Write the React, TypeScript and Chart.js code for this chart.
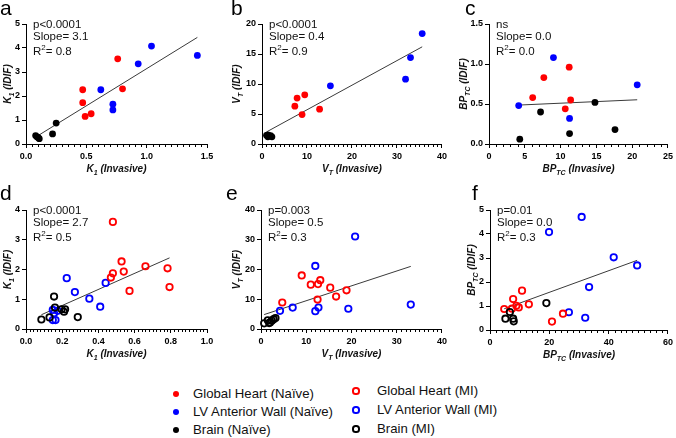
import React, { useEffect, useRef } from 'react';
import { Chart, registerables } from 'chart.js';

Chart.register(...registerables);

type Pt = [number, number];
type Part = { t: string; sub?: boolean; sup?: boolean };

const RED = '#ff0000';
const BLUE = '#0000ff';
const BLACK = '#000000';
const FONT = '"Liberation Sans", Arial, Helvetica, sans-serif';

// ---- Naïve animals: K1 ----
const k1HeartNaive: Pt[] = [[0.47, 2.26], [0.47, 1.72], [0.49, 1.15], [0.54, 1.26], [0.76, 3.55], [0.8, 2.3]];
const k1WallNaive: Pt[] = [[0.62, 2.26], [0.72, 1.66], [0.72, 1.42], [0.93, 3.34], [1.04, 4.08], [1.42, 3.69]];
const k1BrainNaive: Pt[] = [[0.08, 0.35], [0.09, 0.3], [0.1, 0.27], [0.11, 0.22], [0.22, 0.42], [0.25, 0.87]];

// ---- Naïve animals: VT ----
const vtHeartNaive: Pt[] = [[7.3, 6.3], [7.8, 7.65], [9.5, 8.2], [8.9, 4.9], [12.8, 5.8]];
const vtWallNaive: Pt[] = [[15.2, 9.7], [31.9, 10.8], [33.0, 14.4], [35.6, 18.4]];
const vtBrainNaive: Pt[] = [[1.0, 1.45], [1.3, 1.5], [1.6, 1.35], [1.9, 1.4], [2.2, 1.2], [1.3, 1.2]];

// ---- Naïve animals: BPTC ----
const bpHeartNaive: Pt[] = [[6.1, 0.58], [7.66, 0.83], [11.2, 0.96], [11.4, 0.55], [10.65, 0.44]];
const bpWallNaive: Pt[] = [[4.15, 0.48], [9.0, 1.08], [11.25, 0.32], [20.7, 0.74]];
const bpBrainNaive: Pt[] = [[4.3, 0.06], [7.2, 0.4], [11.25, 0.13], [14.8, 0.52], [17.6, 0.18]];

// ---- MI animals: K1 ----
const k1HeartMI: Pt[] = [[0.48, 3.6], [0.528, 2.27], [0.54, 1.93], [0.48, 1.87], [0.469, 1.73], [0.572, 1.28], [0.66, 2.11], [0.782, 2.04], [0.793, 1.41]];
const k1WallMI: Pt[] = [[0.225, 1.71], [0.27, 1.24], [0.35, 1.02], [0.41, 0.75], [0.44, 1.55], [0.148, 0.64], [0.155, 0.53], [0.148, 0.3], [0.163, 0.3], [0.175, 0.61]];
const k1BrainMI: Pt[] = [[0.085, 0.32], [0.13, 0.39], [0.155, 1.09], [0.16, 0.72], [0.197, 0.66], [0.21, 0.58], [0.216, 0.66], [0.286, 0.4]];

// ---- MI animals: VT ----
const vtHeartMI: Pt[] = [[4.7, 8.9], [9.0, 18.0], [11.0, 14.9], [12.6, 15.1], [13.1, 16.4], [12.5, 9.9], [15.3, 13.9], [16.6, 10.9], [18.9, 13.0]];
const vtWallMI: Pt[] = [[4.2, 6.1], [7.0, 7.2], [12.0, 6.0], [12.7, 7.2], [12.0, 21.2], [20.8, 31.1], [19.3, 6.8], [33.1, 8.2]];
const vtBrainMI: Pt[] = [[0.7, 1.9], [1.5, 2.9], [1.8, 2.0], [2.0, 2.2], [2.4, 2.8], [2.8, 3.3], [3.2, 3.7]];

// ---- MI animals: BPTC ----
const bpHeartMI: Pt[] = [[4.8, 0.875], [7.8, 1.29], [7.4, 0.89], [8.9, 1.01], [9.7, 0.94], [10.8, 1.64], [13.1, 1.07], [20.9, 0.35], [24.6, 0.68]];
const bpWallMI: Pt[] = [[19.9, 4.08], [30.9, 4.71], [41.7, 3.03], [49.6, 2.69], [33.4, 1.79], [26.6, 0.74], [32.1, 0.51]];
const bpBrainMI: Pt[] = [[6.7, 0.75], [5.2, 0.47], [7.8, 0.47], [8.0, 0.36], [19.0, 1.12]];

// ---- Linear fits (panels a–f) ----
const fitSlopes = [3.1, 0.41, 0.004, 2.7, 0.5, 0.045];
const fitIntercepts = [0.04, 1.6, 0.47, 0.25, 4.5, 0.67];
const fitP = ['p<0.0001', 'p<0.0001', 'ns', 'p<0.0001', 'p=0.003', 'p=0.01'];
const fitR2 = ['0.8', '0.9', '0.0', '0.5', '0.3', '0.3'];

// ---- Axis titles ----
const K1 = (s: string): Part[] => [{ t: 'K' }, { t: '1', sub: true }, { t: ` (${s})` }];
const VT = (s: string): Part[] => [{ t: 'V' }, { t: 'T', sub: true }, { t: ` (${s})` }];
const BP = (s: string): Part[] => [{ t: 'BP' }, { t: 'TC', sub: true }, { t: ` (${s})` }];

type Group = { data: Pt[]; color: string; open: boolean };
type PanelCfg = {
  letter: string; letterX: number; letterY: number;
  left: number; top: number; w: number; h: number;
  axL: number; axT: number; axR: number; axB: number;
  xMin: number; xMax: number; xStep: number; xMinor: number; xDec: number;
  yMin: number; yMax: number; yStep: number; yDec: number;
  xTitle: Part[]; yTitle: Part[]; yTitleX: number;
  fit: number; groups: Group[];
};

const grp = (heart: Pt[], wall: Pt[], brain: Pt[], open: boolean): Group[] => [
  { data: brain, color: BLACK, open },
  { data: heart, color: RED, open },
  { data: wall, color: BLUE, open },
];

const panels: PanelCfg[] = [
  {
    letter: 'a', letterX: 0, letterY: 15, left: 0, top: 0, w: 222, h: 183,
    axL: 26, axT: 24, axR: 207, axB: 144,
    xMin: 0, xMax: 1.5, xStep: 0.5, xMinor: 0.05, xDec: 1, yMin: 0, yMax: 5, yStep: 1, yDec: 0,
    xTitle: K1('Invasive'), yTitle: K1('IDIF'), yTitleX: 7, fit: 0,
    groups: grp(k1HeartNaive, k1WallNaive, k1BrainNaive, false),
  },
  {
    letter: 'b', letterX: 231, letterY: 15, left: 225, top: 0, w: 225, h: 183,
    axL: 262, axT: 24, axR: 443, axB: 144,
    xMin: 0, xMax: 40, xStep: 10, xMinor: 1, xDec: 0, yMin: 0, yMax: 20, yStep: 5, yDec: 0,
    xTitle: VT('Invasive'), yTitle: VT('IDIF'), yTitleX: 236, fit: 1,
    groups: grp(vtHeartNaive, vtWallNaive, vtBrainNaive, false),
  },
  {
    letter: 'c', letterX: 465, letterY: 15, left: 448, top: 0, w: 228, h: 183,
    axL: 489, axT: 24, axR: 670, axB: 144,
    xMin: 0, xMax: 25, xStep: 5, xMinor: 1, xDec: 0, yMin: 0, yMax: 1.5, yStep: 0.5, yDec: 1,
    xTitle: BP('Invasive'), yTitle: BP('IDIF'), yTitleX: 463, fit: 2,
    groups: grp(bpHeartNaive, bpWallNaive, bpBrainNaive, false),
  },
  {
    letter: 'd', letterX: 0, letterY: 200, left: 0, top: 183, w: 222, h: 185,
    axL: 26, axT: 210, axR: 207, axB: 329,
    xMin: 0, xMax: 1, xStep: 0.2, xMinor: 0.02, xDec: 1, yMin: 0, yMax: 4, yStep: 1, yDec: 0,
    xTitle: K1('Invasive'), yTitle: K1('IDIF'), yTitleX: 7, fit: 3,
    groups: grp(k1HeartMI, k1WallMI, k1BrainMI, true),
  },
  {
    letter: 'e', letterX: 226, letterY: 200, left: 222, top: 183, w: 228, h: 185,
    axL: 261, axT: 210, axR: 442, axB: 329,
    xMin: 0, xMax: 40, xStep: 10, xMinor: 1, xDec: 0, yMin: 0, yMax: 40, yStep: 10, yDec: 0,
    xTitle: VT('Invasive'), yTitle: VT('IDIF'), yTitleX: 236, fit: 4,
    groups: grp(vtHeartMI, vtWallMI, vtBrainMI, true),
  },
  {
    letter: 'f', letterX: 472, letterY: 200, left: 452, top: 183, w: 224, h: 185,
    axL: 490, axT: 210, axR: 670, axB: 330,
    xMin: 0, xMax: 60, xStep: 20, xMinor: 2, xDec: 0, yMin: 0, yMax: 5, yStep: 1, yDec: 0,
    xTitle: BP('Invasive'), yTitle: BP('IDIF'), yTitleX: 471, fit: 5,
    groups: grp(bpHeartMI, bpWallMI, bpBrainMI, true),
  },
];

// Draws a run of text pieces, with sub/superscripts where marked.
function drawParts(
  ctx: CanvasRenderingContext2D, parts: Part[], x: number, y: number,
  size: number, style: string, align: 'left' | 'center',
) {
  const base = `${style} ${size}px ${FONT}`;
  const small = `${style} ${Math.round(size * 0.72)}px ${FONT}`;
  const widths = parts.map((p) => {
    ctx.font = p.sub || p.sup ? small : base;
    return ctx.measureText(p.t).width;
  });
  const total = widths.reduce((s, w) => s + w, 0);
  let cx = align === 'center' ? x - total / 2 : x;
  ctx.textAlign = 'left';
  ctx.textBaseline = 'alphabetic';
  parts.forEach((p, i) => {
    ctx.font = p.sub || p.sup ? small : base;
    const dy = p.sub ? size * 0.3 : p.sup ? -size * 0.42 : 0;
    ctx.fillText(p.t, cx, y + dy);
    cx += widths[i];
  });
}

function buildConfig(cfg: PanelCfg): any {
  const slope = fitSlopes[cfg.fit];
  const icpt = fitIntercepts[cfg.fit];
  const allX = cfg.groups.flatMap((g) => g.data.map((d) => d[0]));
  const x0 = Math.min(...allX);
  const x1 = Math.max(...allX);

  const datasets: any[] = cfg.groups.map((g) => ({
    type: 'scatter',
    data: g.data.map(([x, y]) => ({ x, y })),
    pointRadius: g.open ? 3.2 : 3.4,
    pointBorderWidth: g.open ? 1.8 : 0,
    pointBackgroundColor: g.open ? 'rgba(255,255,255,0)' : g.color,
    pointBorderColor: g.color,
    clip: false,
  }));
  datasets.push({
    type: 'scatter',
    showLine: true,
    data: [x0, x1].map((x) => ({ x, y: slope * x + icpt })),
    borderColor: '#3a3a3a',
    borderWidth: 1,
    pointRadius: 0,
    clip: false,
  });

  const tickFont = { family: FONT, size: 9, weight: 'bold' };
  const gridOpts = { display: true, drawOnChartArea: false, drawTicks: true, tickLength: 4, color: '#000', lineWidth: 1 };
  const borderOpts = { display: true, color: '#000', width: 1 };
  const xH = cfg.h - (cfg.axB - cfg.top);
  const yW = cfg.axL - cfg.left;

  const decor = {
    id: 'panelDecor',
    afterDraw(chart: any) {
      const ctx: CanvasRenderingContext2D = chart.ctx;
      const area = chart.chartArea;
      const xs = chart.scales.x;
      ctx.save();
      // minor ticks on the x axis
      ctx.strokeStyle = '#000';
      ctx.lineWidth = 1;
      const n = Math.round((cfg.xMax - cfg.xMin) / cfg.xMinor);
      const per = Math.round(cfg.xStep / cfg.xMinor);
      for (let i = 0; i <= n; i++) {
        if (i % per === 0) continue;
        const px = Math.round(xs.getPixelForValue(cfg.xMin + i * cfg.xMinor)) + 0.5;
        ctx.beginPath();
        ctx.moveTo(px, Math.round(area.bottom));
        ctx.lineTo(px, Math.round(area.bottom) + 3);
        ctx.stroke();
      }
      ctx.fillStyle = '#111';
      // axis titles
      drawParts(ctx, cfg.xTitle, (area.left + area.right) / 2, cfg.axB - cfg.top + 28, 10, 'italic bold', 'center');
      ctx.save();
      ctx.translate(cfg.yTitleX - cfg.left, (area.top + area.bottom) / 2);
      ctx.rotate(-Math.PI / 2);
      drawParts(ctx, cfg.yTitle, 0, 3.6, 10, 'italic bold', 'center');
      ctx.restore();
      // fit statistics
      const tx = area.left + 7;
      drawParts(ctx, [{ t: fitP[cfg.fit] }], tx, area.top + 4, 11.5, 'normal', 'left');
      drawParts(ctx, [{ t: `Slope= ${slope.toFixed(1)}` }], tx, area.top + 15.5, 11.5, 'normal', 'left');
      drawParts(ctx, [{ t: 'R' }, { t: '2', sup: true }, { t: `= ${fitR2[cfg.fit]}` }], tx, area.top + 31, 11.5, 'normal', 'left');
      // panel letter
      ctx.fillStyle = '#000';
      ctx.font = `21px ${FONT}`;
      ctx.fillText(cfg.letter, cfg.letterX - cfg.left, cfg.letterY - cfg.top);
      ctx.restore();
    },
  };

  return {
    type: 'scatter',
    data: { datasets },
    options: {
      responsive: false,
      animation: false,
      devicePixelRatio: 1,
      layout: { padding: { top: cfg.axT - cfg.top, right: cfg.left + cfg.w - cfg.axR, bottom: 0, left: 0 } },
      plugins: { legend: { display: false }, tooltip: { enabled: false } },
      scales: {
        x: {
          type: 'linear', min: cfg.xMin, max: cfg.xMax,
          ticks: {
            stepSize: cfg.xStep, autoSkip: false, maxRotation: 0, padding: 3,
            color: '#000', font: tickFont,
            callback: (v: number) => Number(v).toFixed(cfg.xDec),
          },
          grid: gridOpts, border: borderOpts,
          afterFit: (s: any) => { s.height = xH; },
        },
        y: {
          type: 'linear', min: cfg.yMin, max: cfg.yMax,
          ticks: {
            stepSize: cfg.yStep, autoSkip: false, padding: 2,
            color: '#000', font: tickFont,
            callback: (v: number) => Number(v).toFixed(cfg.yDec),
          },
          grid: gridOpts, border: borderOpts,
          afterFit: (s: any) => { s.width = yW; },
        },
      },
    },
    plugins: [decor],
  };
}

function Panel({ cfg }: { cfg: PanelCfg }) {
  const ref = useRef<HTMLCanvasElement>(null);
  useEffect(() => {
    const chart = new Chart(ref.current as HTMLCanvasElement, buildConfig(cfg));
    return () => chart.destroy();
  }, [cfg]);
  return (
    <canvas
      ref={ref}
      width={cfg.w}
      height={cfg.h}
      style={{ position: 'absolute', left: cfg.left, top: cfg.top, width: cfg.w, height: cfg.h }}
    />
  );
}

const legendNaive = ['Global Heart (Naïve)', 'LV Anterior Wall (Naïve)', 'Brain (Naïve)'];
const legendMI = ['Global Heart (MI)', 'LV Anterior Wall (MI)', 'Brain (MI)'];
const legendColors = [RED, BLUE, BLACK];

function LegendItem({ x, y, tx, label, color, open }: { x: number; y: number; tx: number; label: string; color: string; open: boolean }) {
  const r = open ? 3.6 : 3.3;
  return (
    <>
      <div
        style={{
          position: 'absolute', left: x - r, top: y - r, width: r * 2, height: r * 2, borderRadius: '50%',
          boxSizing: 'border-box',
          background: open ? 'transparent' : color,
          border: open ? `2px solid ${color}` : 'none',
        }}
      />
      <div
        style={{
          position: 'absolute', left: tx, top: y - 8, height: 16, lineHeight: '16px',
          fontFamily: FONT, fontSize: 13.2, color: '#111', whiteSpace: 'nowrap',
        }}
      >
        {label}
      </div>
    </>
  );
}

export default function App() {
  const leftRows = [394, 412, 430];
  const rightRows = [391, 410, 429];
  return (
    <div style={{ position: 'absolute', left: 0, top: 0, width: 676, height: 438, background: '#fff', overflow: 'hidden' }}>
      {panels.map((p) => (
        <Panel key={p.letter} cfg={p} />
      ))}
      {legendNaive.map((l, i) => (
        <LegendItem key={l} x={176} y={leftRows[i]} tx={193} label={l} color={legendColors[i]} open={false} />
      ))}
      {legendMI.map((l, i) => (
        <LegendItem key={l} x={356} y={rightRows[i]} tx={377} label={l} color={legendColors[i]} open={true} />
      ))}
    </div>
  );
}
